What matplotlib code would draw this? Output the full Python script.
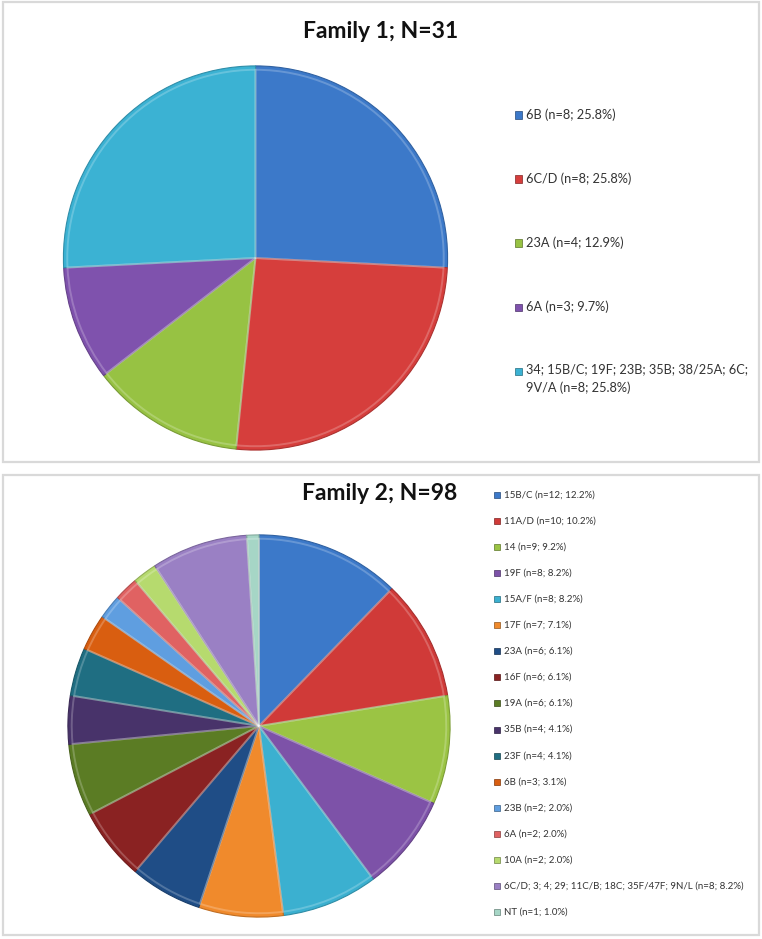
import matplotlib.pyplot as plt
import matplotlib.colors as mcolors
from matplotlib.patches import Rectangle

plt.rcParams['font.family'] = ['Lato', 'DejaVu Sans']

W, H = 762, 939

# Family 1
fam1_names = ['6B', '6C/D', '23A', '6A',
              '34; 15B/C; 19F; 23B; 35B; 38/25A; 6C;\n9V/A']
fam1_counts = [8, 8, 4, 3, 8]
fam1_colors = ['#3c79c9', '#d63e3c', '#97c243', '#7f52ad', '#3bb2d3']

# Family 2
fam2_names = ['15B/C', '11A/D', '14', '19F', '15A/F', '17F', '23A', '16F', '19A',
              '35B', '23F', '6B', '23B', '6A', '10A',
              '6C/D; 3; 4; 29; 11C/B; 18C; 35F/47F; 9N/L', 'NT']
fam2_counts = [12, 10, 9, 8, 8, 7, 6, 6, 6, 4, 4, 3, 2, 2, 2, 8, 1]
fam2_colors = ['#3c79c9', '#d03a38', '#9bc444', '#7d52a8', '#3bb0d0', '#f08a2c',
               '#1f4d86', '#8a2222', '#5b7c24', '#48336a', '#1f6e82', '#d95e10',
               '#5f9ee0', '#e06262', '#b6da6e', '#9a80c4', '#a6d6c6']


def make_labels(names, counts):
    total = sum(counts)
    labels = []
    for name, n in zip(names, counts):
        labels.append('{} (n={}; {:.1f}%)'.format(name, n, 100.0 * n / total))
    return labels


def darker(c, f=0.75):
    r, g, b = mcolors.to_rgb(c)
    return (r * f, g * f, b * f)


def draw_pie(fig, cx, cy, r, counts, colors):
    ax = fig.add_axes([(cx - r) / W, (H - cy - r) / H, 2 * r / W, 2 * r / H])
    wedges, _ = ax.pie(counts, colors=colors, startangle=90, counterclock=False,
                       radius=1.0, wedgeprops=dict(linewidth=0.8))
    for w, c in zip(wedges, colors):
        w.set_edgecolor(darker(c, 0.8))
    # soft highlight rim to mimic the bevel look
    ax.pie(counts, colors=['none'] * len(counts), startangle=90,
           counterclock=False, radius=0.98,
           wedgeprops=dict(linewidth=1.4, edgecolor=(1, 1, 1, 0.22)))
    ax.set_xlim(-1.01, 1.01)
    ax.set_ylim(-1.01, 1.01)
    ax.set_aspect('equal')
    ax.axis('off')
    return ax


def draw_legend(fig, labels, colors, x0, y0, dy, size, box, gap):
    for i, (lab, c) in enumerate(zip(labels, colors)):
        y = y0 + i * dy
        fig.patches.append(Rectangle(((x0 - box / 2) / W, (H - y - box / 2) / H),
                                     box / W, box / H, transform=fig.transFigure,
                                     facecolor=c, edgecolor=darker(c, 0.6),
                                     linewidth=0.5))
        tx = (x0 + box / 2 + gap) / W
        if '\n' in lab:
            fig.text(tx, (H - y + size * 0.8) / H, lab, fontsize=size, va='top',
                     ha='left', color='#333333', linespacing=1.55)
        else:
            fig.text(tx, (H - y) / H, lab, fontsize=size, va='center',
                     ha='left', color='#333333')


fig = plt.figure(figsize=(W / 100, H / 100), dpi=100)

# panel frames
for (x1, y1, x2, y2) in [(3, 2, 759, 462), (3, 475, 759, 935)]:
    fig.patches.append(Rectangle((x1 / W, (H - y2) / H), (x2 - x1) / W, (y2 - y1) / H,
                                 transform=fig.transFigure, facecolor='none',
                                 edgecolor='#d9d9d9', linewidth=1.6))

# top panel
draw_pie(fig, 255.5, 258, 194, fam1_counts, fam1_colors)
fig.text(381 / W, (H - 32) / H, 'Family 1; N=31', fontsize=16.5, fontweight='bold',
         ha='center', va='center', color='#111111')
draw_legend(fig, make_labels(fam1_names, fam1_counts), fam1_colors,
            518, 115, 64, 9.2, 7, 5)

# bottom panel
draw_pie(fig, 259, 726, 193, fam2_counts, fam2_colors)
fig.text(380 / W, (H - 494) / H, 'Family 2; N=98', fontsize=16.5, fontweight='bold',
         ha='center', va='center', color='#111111')
draw_legend(fig, make_labels(fam2_names, fam2_counts), fam2_colors,
            497, 495, 26.06, 7.0, 6, 4)

fig.savefig('out.png', dpi=100)
